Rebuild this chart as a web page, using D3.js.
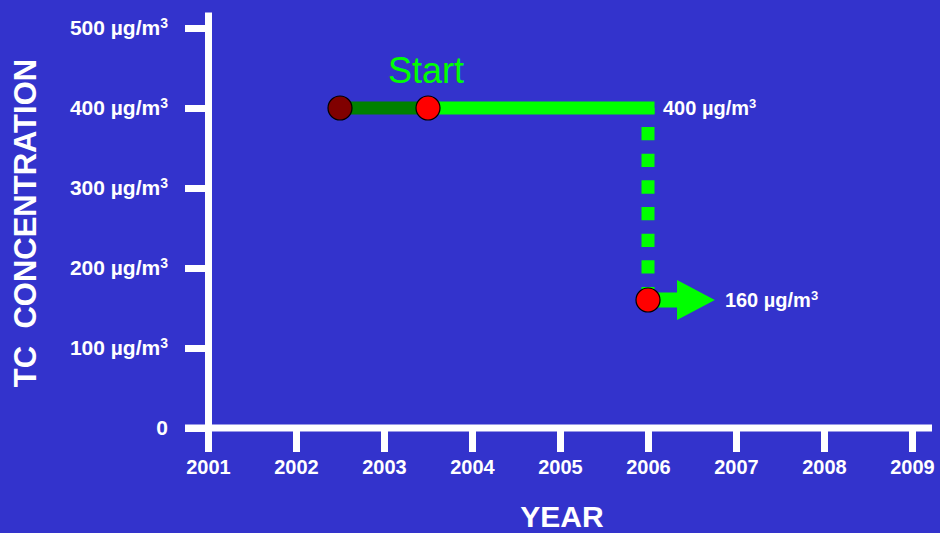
<!DOCTYPE html>
<html>
<head>
<meta charset="utf-8">
<script src="https://cdn.jsdelivr.net/npm/d3@7"></script>
<style>
  html, body { margin: 0; padding: 0; background: #3333cc; }
  svg { display: block; }
  text { font-family: "Liberation Sans", Arial, sans-serif; }
</style>
</head>
<body>
<svg id="chart" width="940" height="533"></svg>
<script>
// Axis ticks
const years = [2001, 2002, 2003, 2004, 2005, 2006, 2007, 2008, 2009];
const concTicks = [0, 100, 200, 300, 400, 500];
const unit = "µg/m";
const unitSup = "3";

// Trajectory: earlier level, start point, and target
const pastPoint = { year: 2002.5, value: 400 };
const startPoint = { year: 2003.5, value: 400 };
const plateauEnd = { year: 2006, value: 400 };
const targetPoint = { year: 2006, value: 160 };
// Trend arrow after the target: shaft end and tip
const arrowYears = [2006, 2006.33, 2006.76];

const labels = {
  start: "Start",
  xTitle: "YEAR",
  yTitle: "TC  CONCENTRATION"
};

const BG = "#3333cc", WHITE = "#ffffff";
const GREEN = "#00ff00", DARK_GREEN = "#008000";
const RED = "#ff0000", DARK_RED = "#800000";

const svg = d3.select("#chart");
svg.append("rect").attr("width", 940).attr("height", 533).attr("fill", BG);

const x = d3.scaleLinear().domain([2001, 2009]).range([208, 912]);
const y = d3.scaleLinear().domain([0, 520]).range([428, 12]);

// Y axis
const yAxis = svg.append("g")
  .attr("transform", `translate(${x(2001)},0)`)
  .call(d3.axisLeft(y).tickValues(concTicks).tickSize(23).tickSizeOuter(0).tickPadding(17));
yAxis.select(".domain").attr("stroke", WHITE).attr("stroke-width", 7);
yAxis.selectAll(".tick line").attr("stroke", WHITE).attr("stroke-width", 7);
yAxis.selectAll(".tick text").each(function(d) {
  const t = d3.select(this).text(null)
    .attr("fill", WHITE).attr("font-size", 21).attr("font-weight", "bold")
    .attr("font-family", "'Liberation Sans', Arial, sans-serif");
  if (d === 0) { t.text("0"); return; }
  t.append("tspan").text(`${d} ${unit}`);
  t.append("tspan").attr("font-size", 14).attr("dy", "-0.55em").text(unitSup);
});

// X axis
const xAxis = svg.append("g")
  .attr("transform", `translate(0,${y(0)})`)
  .call(d3.axisBottom(x).tickValues(years).tickSize(24).tickSizeOuter(0).tickPadding(8).tickFormat(d3.format("d")));
xAxis.select(".domain").remove();
xAxis.selectAll(".tick line").attr("stroke", WHITE).attr("stroke-width", 7);
xAxis.selectAll(".tick text")
  .attr("fill", WHITE).attr("font-size", 20).attr("font-weight", "bold")
  .attr("font-family", "'Liberation Sans', Arial, sans-serif");
svg.append("line")
  .attr("x1", x(2001) - 23).attr("x2", x(2009) + 20)
  .attr("y1", y(0)).attr("y2", y(0))
  .attr("stroke", WHITE).attr("stroke-width", 7);

// Axis titles
svg.append("text")
  .attr("x", 562).attr("y", 527)
  .attr("text-anchor", "middle").attr("fill", WHITE)
  .attr("font-size", 30).attr("font-weight", "bold")
  .text(labels.xTitle);
svg.append("text")
  .attr("transform", "translate(36,223) rotate(-90)")
  .attr("text-anchor", "middle").attr("fill", WHITE)
  .attr("font-size", 31).attr("font-weight", "bold")
  .attr("xml:space", "preserve")
  .style("white-space", "pre")
  .text(labels.yTitle);

const line = d3.line().x(d => x(d.year)).y(d => y(d.value));

// Plateau from the start point to 2006
svg.append("path")
  .attr("d", line([startPoint, plateauEnd]))
  .attr("stroke", GREEN).attr("stroke-width", 13)
  .attr("stroke-linecap", "square").attr("fill", "none");
// Earlier segment
svg.append("path")
  .attr("d", line([pastPoint, startPoint]))
  .attr("stroke", DARK_GREEN).attr("stroke-width", 13).attr("fill", "none");

// Dotted drop to the target
svg.append("path")
  .attr("d", line([plateauEnd, targetPoint]))
  .attr("stroke", GREEN).attr("stroke-width", 13)
  .attr("stroke-dasharray", "13.33,13.33").attr("stroke-dashoffset", 7.67)
  .attr("fill", "none");

// Trend arrow after the target
const ay = y(targetPoint.value);
const [a0, a1, a2] = arrowYears.map(x);
svg.append("path")
  .attr("d", `M${a0},${ay - 7.5}L${a1},${ay - 7.5}L${a1},${ay - 20}L${a2},${ay}L${a1},${ay + 20}L${a1},${ay + 7.5}L${a0},${ay + 7.5}Z`)
  .attr("fill", GREEN);

// Points
svg.selectAll("circle.pt")
  .data([
    { ...pastPoint, fill: DARK_RED },
    { ...startPoint, fill: RED },
    { ...targetPoint, fill: RED }
  ])
  .join("circle")
  .attr("class", "pt")
  .attr("cx", d => x(d.year)).attr("cy", d => y(d.value))
  .attr("r", 12).attr("fill", d => d.fill)
  .attr("stroke", "#000").attr("stroke-width", 1.2);

// Start label
svg.append("text")
  .attr("x", x(startPoint.year) - 2).attr("y", 83)
  .attr("text-anchor", "middle").attr("fill", GREEN)
  .attr("font-size", 36)
  .text(labels.start);

// Value annotations
function valueLabel(px, py, v) {
  const t = svg.append("text")
    .attr("x", px).attr("y", py).attr("dy", "0.35em")
    .attr("fill", WHITE).attr("font-size", 20).attr("font-weight", "bold");
  t.append("tspan").text(`${v} ${unit}`);
  t.append("tspan").attr("font-size", 13).attr("dy", "-0.55em").text(unitSup);
}
valueLabel(x(plateauEnd.year) + 15, y(plateauEnd.value), plateauEnd.value);
valueLabel(a2 + 10, y(targetPoint.value), targetPoint.value);
</script>
</body>
</html>
